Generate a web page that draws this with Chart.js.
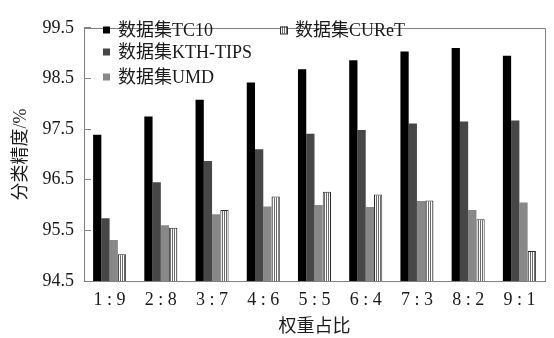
<!DOCTYPE html>
<html>
<head>
<meta charset="utf-8">
<script src="https://cdn.jsdelivr.net/npm/chart.js@4.4.0/dist/chart.umd.min.js"></script>
<style>
html, body { margin: 0; padding: 0; background: #fff; }
#wrap { width: 554px; height: 338px; }
</style>
</head>
<body>
<div id="wrap"><canvas id="chart" width="554" height="338"></canvas></div>
<script>
// data
var categories = ['1 : 9', '2 : 8', '3 : 7', '4 : 6', '5 : 5', '6 : 4', '7 : 3', '8 : 2', '9 : 1'];
var tc10    = [97.39, 97.75, 98.08, 98.42, 98.68, 98.86, 99.03, 99.10, 98.95];
var kthTips = [95.74, 96.45, 96.87, 97.10, 97.41, 97.48, 97.61, 97.65, 97.67];
var umd     = [95.31, 95.60, 95.82, 95.97, 96.00, 95.96, 96.08, 95.90, 96.05];
var curet   = [95.03, 95.55, 95.90, 96.17, 96.26, 96.21, 96.09, 95.72, 95.09];
var yTicks  = [94.5, 95.5, 96.5, 97.5, 98.5, 99.5];

var FONT = "'Liberation Serif', 'Noto Sans CJK SC', serif";
var TEXT = '#1a1a1a';
var FRAME = '#808080';

// vertical stripes for the CUReT bars
function stripePattern() {
    var c = document.createElement('canvas');
    c.width = 2; c.height = 4;
    var g = c.getContext('2d');
    g.fillStyle = '#fff';
    g.fillRect(0, 0, 2, 4);
    g.fillStyle = '#6a6a6a';
    g.fillRect(0, 0, 1, 4);
    return g.createPattern(c, 'repeat');
}
var stripes = stripePattern();

// legend drawn inside the plot: two columns
var legendSpots = [{ x: 103, y: 30 }, { x: 103, y: 52 }, { x: 103, y: 77 }, { x: 280, y: 30 }];

var framePlugin = {
    id: 'frame',
    afterDatasetsDraw: function (chart) {
        var a = chart.chartArea, ctx = chart.ctx;
        ctx.save();
        ctx.strokeStyle = FRAME;
        ctx.lineWidth = 1;
        ctx.beginPath();
        ctx.moveTo(Math.round(a.left) + 0.5, Math.round(a.top) + 0.5);
        ctx.lineTo(Math.round(a.right) + 0.5, Math.round(a.top) + 0.5);
        ctx.lineTo(Math.round(a.right) + 0.5, Math.round(a.bottom) + 0.5);
        ctx.stroke();
        ctx.restore();
    }
};

var legendPlugin = {
    id: 'insideLegend',
    afterDraw: function (chart) {
        var ctx = chart.ctx;
        ctx.save();
        ctx.font = '18px ' + FONT;
        ctx.textBaseline = 'middle';
        chart.data.datasets.forEach(function (ds, i) {
            var p = legendSpots[i];
            ctx.fillStyle = ds.backgroundColor;
            ctx.fillRect(p.x, p.y - 3.5, 7, 7);
            if (ds.borderWidth) {
                ctx.strokeStyle = ds.borderColor;
                ctx.lineWidth = 1;
                ctx.strokeRect(p.x + 0.5, p.y - 3, 7, 7);
            }
            ctx.fillStyle = TEXT;
            ctx.fillText(ds.label, p.x + 15, p.y + 1);
        });
        ctx.restore();
    }
};

new Chart(document.getElementById('chart').getContext('2d'), {
    type: 'bar',
    data: {
        labels: categories,
        datasets: [
            { label: '数据集TC10', data: tc10, backgroundColor: '#000000', borderWidth: 0 },
            { label: '数据集KTH-TIPS', data: kthTips, backgroundColor: '#474747', borderWidth: 0 },
            { label: '数据集UMD', data: umd, backgroundColor: '#888888', borderWidth: 0 },
            { label: '数据集CUReT', data: curet, backgroundColor: stripes, borderColor: '#2a2a2a', borderWidth: 1 }
        ]
    },
    options: {
        responsive: false,
        animation: false,
        devicePixelRatio: 1,
        layout: { padding: { left: 0, right: 9, top: 13, bottom: 0 } },
        datasets: { bar: { categoryPercentage: 0.645, barPercentage: 1.0 } },
        plugins: {
            legend: { display: false },
            tooltip: { enabled: false }
        },
        scales: {
            x: {
                grid: { display: false },
                border: { display: true, color: FRAME, width: 1 },
                ticks: { color: TEXT, font: { family: FONT, size: 18 }, padding: 0, maxRotation: 0, autoSkip: false },
                title: { display: true, text: '权重占比', color: TEXT, font: { family: FONT, size: 18 }, padding: { top: 0, bottom: 0 } },
                afterFit: function (s) { s.height = 57; }
            },
            y: {
                min: 94.5,
                max: 99.5,
                afterBuildTicks: function (s) { s.ticks = yTicks.map(function (v) { return { value: v }; }); },
                grid: { drawOnChartArea: false, drawTicks: true, tickLength: -7, color: FRAME },
                border: { display: true, color: FRAME, width: 1 },
                ticks: {
                    color: TEXT,
                    font: { family: FONT, size: 18 },
                    padding: 17,
                    callback: function (v) { return Number(v).toFixed(1); }
                },
                title: { display: true, text: '分类精度/%', color: TEXT, font: { family: FONT, size: 18 }, padding: { top: 10, bottom: 0 } },
                afterFit: function (s) { s.width = 84; }
            }
        }
    },
    plugins: [framePlugin, legendPlugin]
});
</script>
</body>
</html>
